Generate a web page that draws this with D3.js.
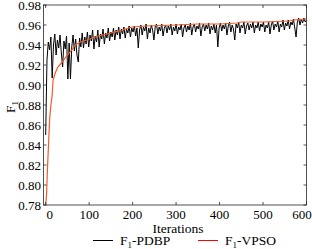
<!DOCTYPE HTML>
<html>
<head>
<meta charset="utf-8">
<style>
	body { margin: 0; background: #fff; }
	svg text { font-family: "Liberation Serif", "Times New Roman", serif; fill: #000; }
	.tick-label { font-size: 13px; }
</style>
<script src="https://cdn.jsdelivr.net/npm/d3@7/dist/d3.min.js"></script>
</head>
<body>
<script>
// x ticks and y ticks
var xTicks = [0, 100, 200, 300, 400, 500, 600];
var yTicks = [0.78, 0.80, 0.82, 0.84, 0.86, 0.88, 0.90, 0.92, 0.94, 0.96, 0.98];

var pdbpIter = d3.range(0, 601, 3);
var pdbpVal = [
	0.850, 0.925, 0.943, 0.935, 0.948, 0.907, 0.940, 0.951, 0.930, 0.945,
	0.937, 0.950, 0.932, 0.918, 0.944, 0.936, 0.949, 0.906, 0.942, 0.906,
	0.938, 0.950, 0.934, 0.946, 0.930, 0.923, 0.947, 0.938, 0.952, 0.937,
	0.948, 0.941, 0.953, 0.938,
	0.950, 0.944, 0.955, 0.936, 0.949, 0.943, 0.955, 0.938, 0.951, 0.946,
	0.956, 0.941, 0.952, 0.947, 0.957, 0.944, 0.953, 0.948, 0.957, 0.945,
	0.955, 0.950, 0.958, 0.946, 0.956, 0.951, 0.958, 0.947, 0.956, 0.952,
	0.959, 0.948, 0.957,
	0.953, 0.959, 0.949, 0.957, 0.937, 0.955, 0.960, 0.950, 0.958, 0.954,
	0.961, 0.946, 0.957, 0.952, 0.960, 0.955, 0.945, 0.958, 0.961, 0.951,
	0.958, 0.954, 0.961, 0.949, 0.957, 0.960, 0.952, 0.959, 0.955, 0.961,
	0.950, 0.958, 0.954,
	0.961, 0.951, 0.958, 0.955, 0.961, 0.948, 0.957, 0.960, 0.953, 0.959,
	0.955, 0.962, 0.950, 0.958, 0.961, 0.953, 0.959, 0.956, 0.962, 0.949,
	0.958, 0.961, 0.954, 0.960, 0.956, 0.962, 0.951, 0.959, 0.955, 0.961,
	0.952, 0.960, 0.938, 0.957,
	0.962, 0.954, 0.960, 0.956, 0.962, 0.950, 0.959, 0.963, 0.953, 0.960,
	0.956, 0.945, 0.961, 0.957, 0.963, 0.952, 0.960, 0.957, 0.963, 0.951,
	0.959, 0.962, 0.955, 0.961, 0.957, 0.963, 0.952, 0.960, 0.957, 0.963,
	0.954, 0.961, 0.958,
	0.963, 0.953, 0.960, 0.957, 0.963, 0.951, 0.960, 0.964, 0.955, 0.961,
	0.958, 0.964, 0.953, 0.961, 0.958, 0.965, 0.955, 0.962, 0.959, 0.965,
	0.956, 0.963, 0.960, 0.966, 0.957, 0.948, 0.963, 0.967, 0.960, 0.966,
	0.962, 0.967, 0.963, 0.965
];

// F1-VPSO
var vpsoIter = [0, 2, 4, 7, 9, 12, 15, 17, 22, 28, 38, 50, 60, 68, 80, 95, 107, 130, 150, 176, 199, 230, 300, 350, 400, 440, 450, 500, 560, 570, 600];
var vpsoVal = [0.780, 0.790, 0.815, 0.845, 0.865, 0.880, 0.890, 0.905, 0.912, 0.918, 0.923, 0.930, 0.935, 0.940, 0.943, 0.945, 0.947, 0.950, 0.952, 0.955, 0.958, 0.959, 0.960, 0.961, 0.961, 0.962, 0.963, 0.963, 0.964, 0.965, 0.966];

var width = 312, height = 249;
var pLeft = 43.5, pRight = 306.5, pTop = 5, pBottom = 205;

var svg = d3.select("body").append("svg")
	.attr("width", width)
	.attr("height", height);

var x = d3.scaleLinear().domain([-5, 600]).range([pLeft, pRight]);
var y = d3.scaleLinear().domain([0.78, 0.98]).range([pBottom, pTop]);

var pdbp = pdbpIter.map(function(d, i) { return {x: d, y: pdbpVal[i]}; });
var vpso = vpsoIter.map(function(d, i) { return {x: d, y: vpsoVal[i]}; });

var line = d3.line()
	.x(function(d) { return x(d.x); })
	.y(function(d) { return y(d.y); });

svg.append("defs").append("clipPath").attr("id", "clip")
	.append("rect").attr("x", pLeft).attr("y", pTop)
	.attr("width", pRight - pLeft).attr("height", pBottom - pTop);

var plot = svg.append("g").attr("clip-path", "url(#clip)");
plot.append("path").datum(pdbp)
	.attr("d", line)
	.attr("fill", "none")
	.attr("stroke", "#000")
	.attr("stroke-width", 1);
plot.append("path").datum(vpso)
	.attr("d", line)
	.attr("fill", "none")
	.attr("stroke", "#f05a28")
	.attr("stroke-width", 1.2);

// box + inward ticks
var axisColor = "#262626";
svg.append("rect")
	.attr("x", pLeft).attr("y", pTop)
	.attr("width", pRight - pLeft).attr("height", pBottom - pTop)
	.attr("fill", "none").attr("stroke", axisColor).attr("stroke-width", 0.8);

var tl = 3;
xTicks.forEach(function(t, i) {
	svg.append("line").attr("x1", x(t)).attr("x2", x(t)).attr("y1", pBottom).attr("y2", pBottom - tl)
		.attr("stroke", axisColor).attr("stroke-width", 0.8);
	svg.append("line").attr("x1", x(t)).attr("x2", x(t)).attr("y1", pTop).attr("y2", pTop + tl)
		.attr("stroke", axisColor).attr("stroke-width", 0.8);
	// first and last labels sit a little inside, as in the original
	var shift = i === 0 ? 4 : (i === xTicks.length - 1 ? -4.5 : 0);
	svg.append("text").attr("class", "tick-label")
		.attr("x", x(t) + shift).attr("y", 219)
		.attr("text-anchor", "middle")
		.text(t);
});
yTicks.forEach(function(t) {
	svg.append("line").attr("x1", pLeft).attr("x2", pLeft + tl).attr("y1", y(t)).attr("y2", y(t))
		.attr("stroke", axisColor).attr("stroke-width", 0.8);
	svg.append("line").attr("x1", pRight).attr("x2", pRight - tl).attr("y1", y(t)).attr("y2", y(t))
		.attr("stroke", axisColor).attr("stroke-width", 0.8);
	svg.append("text").attr("class", "tick-label")
		.attr("x", 41).attr("y", y(t) + 4.5)
		.attr("font-size", 13.5)
		.attr("text-anchor", "end")
		.text(t.toFixed(2));
});

// axis titles
svg.append("text")
	.attr("x", 178).attr("y", 233)
	.attr("text-anchor", "middle")
	.attr("font-size", 13.5)
	.text("Iterations");

var yl = svg.append("text")
	.attr("transform", "translate(15,107) rotate(-90)")
	.attr("text-anchor", "middle")
	.attr("font-size", 13.5);
yl.append("tspan").text("F");
yl.append("tspan").attr("font-size", 9).attr("dy", 3).text("1");

// legend
var legend = [
	{name: "-PDBP", color: "#000", x: 93},
	{name: "-VPSO", color: "#ff0000", x: 198}
];
legend.forEach(function(l) {
	svg.append("line")
		.attr("x1", l.x).attr("x2", l.x + 20)
		.attr("y1", 240.5).attr("y2", 240.5)
		.attr("stroke", l.color).attr("stroke-width", 1);
	var t = svg.append("text")
		.attr("x", l.x + 27).attr("y", 245)
		.attr("font-size", 13.5);
	t.append("tspan").text("F");
	t.append("tspan").attr("font-size", 9).attr("dy", 3).text("1");
	t.append("tspan").attr("dy", -3).text(l.name);
});
</script>
</body>
</html>
